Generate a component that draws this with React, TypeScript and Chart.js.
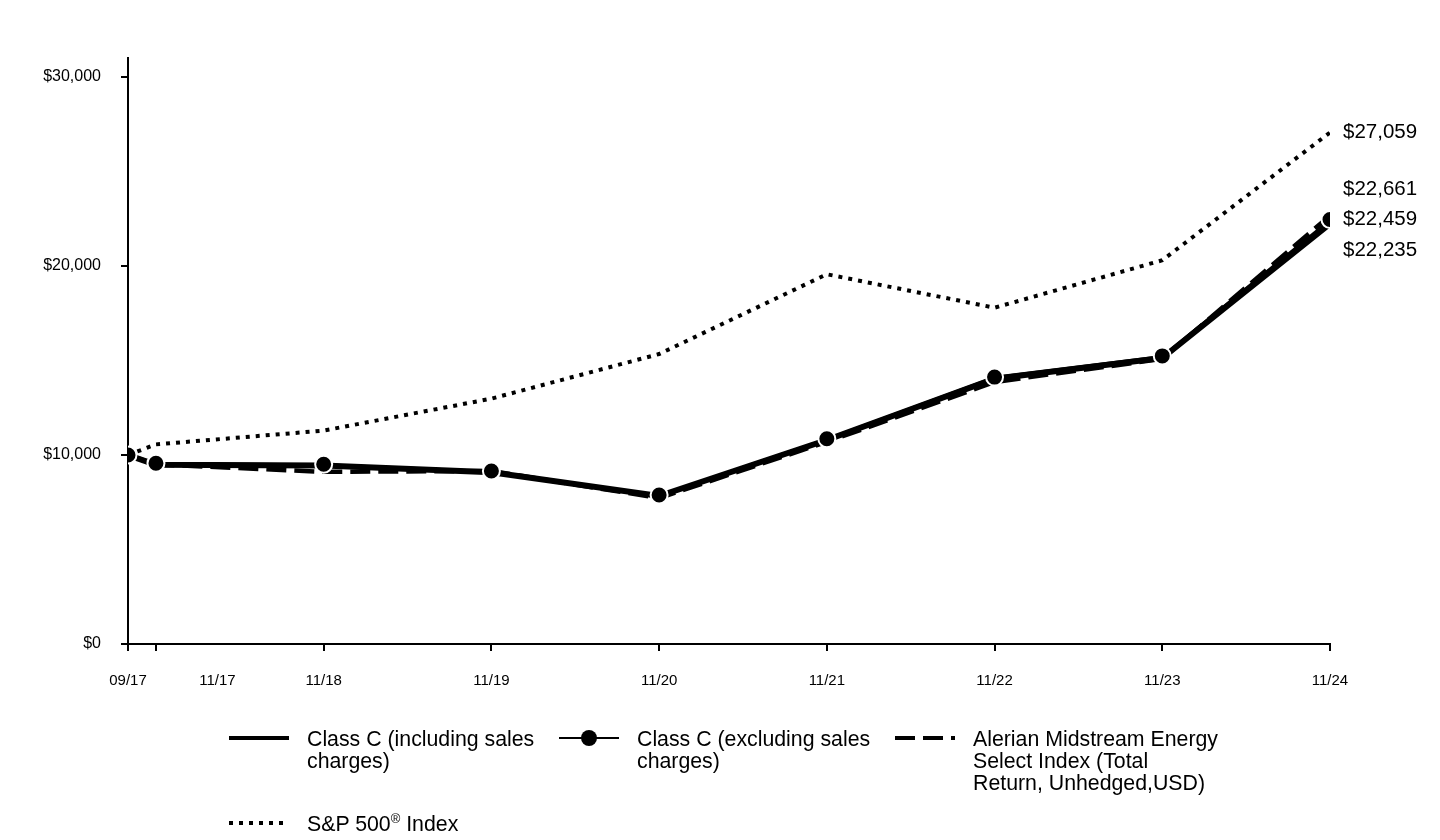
import React, { useEffect, useRef } from "react";
import { Chart, registerables } from "chart.js";

Chart.register(...registerables);

// Months since 09/2017
const monthIndex = [0, 2, 14, 26, 38, 50, 62, 74, 86];
const tickLabels = ["09/17", "11/17", "11/18", "11/19", "11/20", "11/21", "11/22", "11/23", "11/24"];
const labelAt = [0, 6.4, 14, 26, 38, 50, 62, 74, 86];
const yTicks = [0, 10000, 20000, 30000];

const classCExcl = [10000, 9560, 9510, 9150, 7880, 10860, 14120, 15240, 22459];
const classCIncl = [10000, 9480, 9440, 9090, 7830, 10790, 14030, 15130, 22235];
const alerian = [10000, 9500, 9110, 9150, 7720, 10690, 13860, 15080, 22661];
const sp500 = [10000, 10560, 11290, 12980, 15340, 19560, 17790, 20300, 27059];

const FONT = "'Liberation Sans', Arial, sans-serif";

const fmt = (v: number) => "$" + v.toLocaleString("en-US");

const endLabelPlugin = {
  id: "endLabels",
  afterDatasetsDraw(chart: any) {
    const { ctx, scales } = chart;
    const y = scales.y;
    const x = scales.x;
    const finals = [sp500, alerian, classCExcl, classCIncl].map((arr) => arr[arr.length - 1]);
    const items = finals
      .map((v) => ({ v, y: y.getPixelForValue(v) }))
      .sort((a, b) => a.y - b.y);
    const gap = 30.5;
    const clusters: any[] = [];
    items.forEach((it) => {
      const last = clusters[clusters.length - 1];
      if (last && it.y - last[last.length - 1].y < gap) last.push(it);
      else clusters.push([it]);
    });
    ctx.save();
    ctx.font = `20.5px ${FONT}`;
    ctx.fillStyle = "#000";
    ctx.textAlign = "left";
    ctx.textBaseline = "middle";
    clusters.forEach((cl) => {
      const mean = cl.reduce((s: number, c: any) => s + c.y, 0) / cl.length;
      const start = mean - ((cl.length - 1) * gap) / 2;
      cl.forEach((c: any, i: number) => {
        ctx.fillText(fmt(c.v), x.right + 13, start + i * gap);
      });
    });
    ctx.restore();
  },
};

function Sample({ kind }: { kind: string }) {
  return (
    <svg width={60} height={20} style={{ position: "absolute", left: 0, top: 0 }}>
      {kind === "solid" && <line x1={0} y1={10} x2={60} y2={10} stroke="#000" strokeWidth={4} />}
      {kind === "dot" && (
        <>
          <line x1={0} y1={10} x2={60} y2={10} stroke="#000" strokeWidth={2} />
          <circle cx={30} cy={10} r={8} fill="#000" />
        </>
      )}
      {kind === "dash" && (
        <line x1={0} y1={10} x2={60} y2={10} stroke="#000" strokeWidth={4} strokeDasharray="20 8" />
      )}
      {kind === "dotted" && (
        <line x1={0} y1={10} x2={60} y2={10} stroke="#000" strokeWidth={4} strokeDasharray="4 6" />
      )}
    </svg>
  );
}

const legendItems = [
  { left: 229, top: 728, kind: "solid", lines: ["Class C (including sales", "charges)"] },
  { left: 559, top: 728, kind: "dot", lines: ["Class C (excluding sales", "charges)"] },
  {
    left: 895,
    top: 728,
    kind: "dash",
    lines: ["Alerian Midstream Energy", "Select Index (Total", "Return, Unhedged,USD)"],
  },
];

export default function App() {
  const ref = useRef<HTMLCanvasElement | null>(null);

  useEffect(() => {
    if (!ref.current) return;
    const chart = new Chart(ref.current, {
      type: "line",
      data: {
        datasets: [
          {
            label: "Class C (excluding sales charges)",
            data: monthIndex.map((m, i) => ({ x: m, y: classCExcl[i] })),
            borderColor: "#000",
            backgroundColor: "#000",
            borderWidth: 2,
            pointRadius: 8.5,
            pointBackgroundColor: "#000",
            pointBorderColor: "#fff",
            pointBorderWidth: 2,
            tension: 0,
          },
          {
            label: "Class C (including sales charges)",
            data: monthIndex.map((m, i) => ({ x: m, y: classCIncl[i] })),
            borderColor: "#000",
            borderWidth: 6,
            pointRadius: 0,
            tension: 0,
          },
          {
            label: "Alerian Midstream Energy Select Index",
            data: monthIndex.map((m, i) => ({ x: m, y: alerian[i] })),
            borderColor: "#000",
            borderWidth: 4.5,
            borderDash: [20, 8],
            pointRadius: 0,
            tension: 0,
          },
          {
            label: "S&P 500 Index",
            data: monthIndex.map((m, i) => ({ x: m, y: sp500[i] })),
            borderColor: "#000",
            borderWidth: 4,
            borderDash: [4, 6],
            pointRadius: 0,
            tension: 0,
          },
        ],
      },
      options: {
        responsive: false,
        maintainAspectRatio: false,
        animation: false,
        layout: { padding: { left: 0, right: 110, top: 58, bottom: 139 } },
        plugins: {
          legend: { display: false },
          tooltip: { enabled: false },
        },
        scales: {
          x: {
            type: "linear",
            position: "bottom",
            min: 0,
            max: 86,
            afterBuildTicks: (s: any) => {
              s.ticks = monthIndex.map((v) => ({ value: v }));
            },
            afterFit: (s: any) => {
              s.height = 7;
            },
            ticks: { display: false },
            grid: {
              drawOnChartArea: false,
              tickLength: 7,
              lineWidth: 2,
              color: "#000",
              tickColor: "#000",
            },
            border: { color: "#000", width: 2 },
          },
          x2: {
            type: "linear",
            position: "bottom",
            min: 0,
            max: 86,
            afterBuildTicks: (s: any) => {
              s.ticks = labelAt.map((v) => ({ value: v }));
            },
            afterFit: (s: any) => {
              s.height = 50;
            },
            ticks: {
              autoSkip: false,
              maxRotation: 0,
              padding: 21,
              color: "#000",
              font: { family: FONT, size: 15 },
              callback: (v: any) => {
                const i = labelAt.indexOf(Number(v));
                return i >= 0 ? tickLabels[i] : "";
              },
            },
            grid: { display: false, drawTicks: false },
            border: { display: false },
          },
          y: {
            type: "linear",
            min: 0,
            max: 31000,
            afterBuildTicks: (s: any) => {
              s.ticks = yTicks.map((v) => ({ value: v }));
            },
            afterFit: (s: any) => {
              s.width = 128;
            },
            ticks: {
              padding: 20,
              color: "#000",
              font: { family: FONT, size: 16 },
              callback: (v: any) => fmt(Number(v)),
            },
            grid: {
              drawOnChartArea: false,
              tickLength: 7,
              lineWidth: 2,
              color: "#000",
              tickColor: "#000",
            },
            border: { color: "#000", width: 2 },
          },
        },
      } as any,
      plugins: [endLabelPlugin],
    });
    return () => chart.destroy();
  }, []);

  const textStyle: React.CSSProperties = {
    position: "absolute",
    left: 78,
    top: 0,
    fontFamily: FONT,
    fontSize: 21.3,
    lineHeight: "22px",
    color: "#000",
    whiteSpace: "nowrap",
  };

  return (
    <div style={{ position: "fixed", left: 0, top: 0, width: 1440, height: 840, background: "#fff" }}>
      <canvas ref={ref} width={1440} height={840} style={{ position: "absolute", left: 0, top: 0, width: 1440, height: 840 }} />
      {legendItems.map((it, k) => (
        <div key={k} style={{ position: "absolute", left: it.left, top: it.top }}>
          <div style={{ position: "absolute", left: 0, top: 0 }}>
            <Sample kind={it.kind} />
          </div>
          <div style={textStyle}>
            {it.lines.map((l, j) => (
              <div key={j}>{l}</div>
            ))}
          </div>
        </div>
      ))}
      <div style={{ position: "absolute", left: 229, top: 813 }}>
        <Sample kind="dotted" />
        <div style={textStyle}>
          S&amp;P 500<sup style={{ fontSize: 13, lineHeight: 0, verticalAlign: "super" }}>®</sup> Index
        </div>
      </div>
    </div>
  );
}
